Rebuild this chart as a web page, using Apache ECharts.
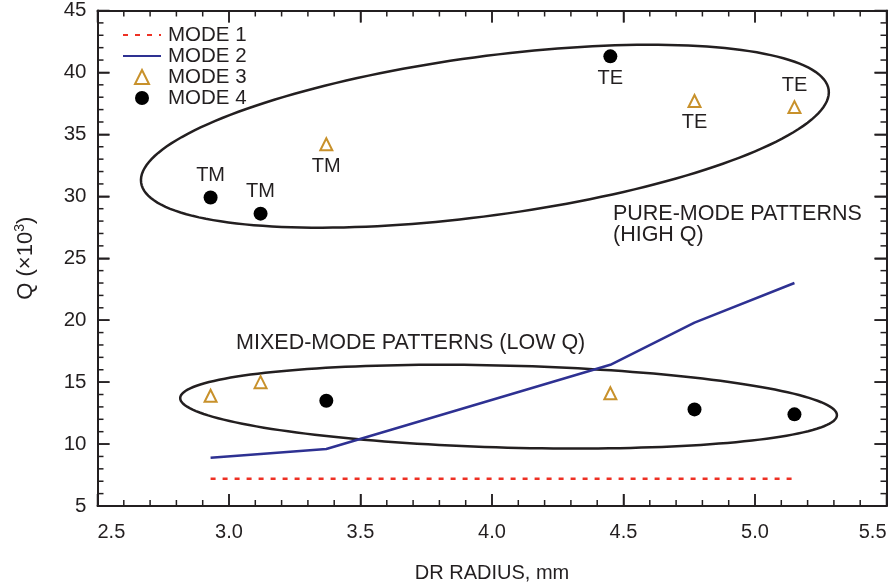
<!DOCTYPE html>
<html>
<head>
<meta charset="utf-8">
<script src="https://cdn.jsdelivr.net/npm/echarts@6/dist/echarts.min.js"></script>
<style>
html,body{margin:0;padding:0;background:#fff;}
#chart{width:891px;height:588px;}
</style>
</head>
<body>
<div id="chart"></div>
<script>
// ---- data ----
const xValues   = [2.93, 3.12, 3.37, 4.45, 4.77, 5.15];
const mode1     = [7.2, 7.2, 7.2, 7.2, 7.2, 7.2];
const mode2     = [8.9, 9.2, 9.6, 16.4, 19.8, 23.0];
const mode3     = [13.9, 15.0, 34.2, 14.1, 37.7, 37.2];
const mode4     = [29.9, 28.6, 13.5, 41.3, 12.8, 12.4];
const mode3Tags = ['', '', 'TM', '', 'TE', 'TE'];
const mode4Tags = ['TM', 'TM', '', 'TE', '', ''];
const seriesNames = ['MODE 1', 'MODE 2', 'MODE 3', 'MODE 4'];
const xTickValues = [2.5, 3.0, 3.5, 4.0, 4.5, 5.0, 5.5];
const yTickValues = [5, 10, 15, 20, 25, 30, 35, 40, 45];
const minorDivisions = 5;
const annotationTexts = ['PURE-MODE PATTERNS', '(HIGH Q)', 'MIXED-MODE PATTERNS (LOW Q)'];
const annotationAnchors = [[4.46, 28.55], [4.46, 26.85], [3.027, 18.15]];
const ellipseCentres = [[3.973, 34.85], [4.063, 13.02]];

// ---- styling / geometry config ----
const ellipseShape = [
  {a: 1.319, b: 6.42, angle: 7.69},
  {a: 1.249, b: 3.31, angle: -1.51}
];
const tagSide3 = ['', '', 'bottom', '', 'bottom', 'top'];
const tagSide4 = ['top', 'top', '', 'bottom', '', ''];
const TXT = '#231f20';
const FONT = 'Liberation Sans, Arial, Helvetica, sans-serif';
const X_MIN = xTickValues[0], Y_MIN = yTickValues[0];

function pairs(ys){ return xValues.map((x,i)=>[x, ys[i]]); }
function tagged(ys, tags, sides){
  return xValues.map((x,i)=>{
    const item = {value:[x, ys[i]]};
    if (tags[i]) {
      item.label = {show:true, formatter: tags[i], position: sides[i], distance: 5,
        color: TXT, fontSize: 20, fontFamily: FONT};
    }
    return item;
  });
}
// tick items located on the axes: [x, y, kind]
// kind 0 = x major, 1 = x minor, 2 = y major, 3 = y minor
function tickItems(majors, isX){
  const out = [];
  const place = (v, k) => isX ? [v, Y_MIN, k] : [X_MIN, v, k];
  majors.forEach((v,i)=>{
    out.push(place(v, isX ? 0 : 2));
    if (i < majors.length-1){
      const step = (majors[i+1]-v)/minorDivisions;
      for (let j=1;j<minorDivisions;j++) out.push(place(v + j*step, isX ? 1 : 3));
    }
  });
  return out;
}
const tickData = tickItems(xTickValues, true).concat(tickItems(yTickValues, false));

const chart = echarts.init(document.getElementById('chart'), null, {renderer:'canvas'});

function mk(base, extra){
  return Object.assign({
    axisLine:{show:true, onZero:false, lineStyle:{color:TXT, width:2}},
    axisTick:{show:true, inside:true, length:12, lineStyle:{color:TXT, width:1.5}},
    minorTick:{show:false},
    splitLine:{show:false}
  }, base, extra);
}
const XB = {type:'value', min:2.5, max:5.5, interval:0.5};
const YB = {type:'value', min:5, max:45, interval:5};

const triIcon = 'path://M19,1.5L24.5,12.5L13.5,12.5Z';

const option = {
  backgroundColor:'#fff',
  animation:false,
  grid:{left:97.5, right:4.5, top:10, bottom:75.5},
  legend:{
    data:[
      {name:'MODE 1', itemStyle:{opacity:0}},
      {name:'MODE 2', itemStyle:{opacity:0}},
      {name:'MODE 3', icon: triIcon},
      {name:'MODE 4'}
    ],
    orient:'vertical', left:122, top:24.5, padding:0,
    itemWidth:38, itemHeight:14, itemGap:0,
    textStyle:{color:TXT, fontSize:20.5, fontFamily:FONT, padding:[0,0,0,2]},
    selectedMode:false
  },
  xAxis:[
    mk(XB, {
      position:'bottom',
      name:'DR RADIUS, mm', nameLocation:'middle', nameGap:57,
      nameTextStyle:{color:TXT, fontSize:20, fontFamily:FONT},
      axisLabel:{show:true, color:TXT, fontSize:20, fontFamily:FONT, margin:16,
        alignMinLabel:'left', alignMaxLabel:'right',
        formatter:(v)=> xTickValues.includes(+(+v).toFixed(1)) ? (+v).toFixed(1) : ''}
    }),
    mk(XB, {position:'top', axisLabel:{show:false}})
  ],
  yAxis:[
    mk(YB, {
      position:'left',
      name:'Q (×10{sup|3})', nameLocation:'middle', nameGap:60, nameRotate:90,
      nameTextStyle:{color:TXT, fontSize:22, fontFamily:FONT,
        rich:{sup:{fontSize:14, fontFamily:FONT, color:TXT, verticalAlign:'top', padding:[0,0,10,0]}}},
      axisLabel:{show:true, color:TXT, fontSize:20.5, fontFamily:FONT, margin:11,
        formatter:(v)=> yTickValues.includes(+v) ? String(v) : ''}
    }),
    mk(YB, {position:'right', axisLabel:{show:false}})
  ],
  series:[
    {
      type:'custom', name:'ticks', silent:true, z:6, clip:false,
      data: tickData,
      encode:{x:0, y:1},
      renderItem:(params, api)=>{
        const cs = params.coordSys;
        const kind = api.value(2);
        const p = api.coord([api.value(0), api.value(1)]);
        const st = {stroke:TXT, lineWidth:1.5};
        if (kind < 2){
          const len = kind === 0 ? 12 : 6;
          const yb = cs.y + cs.height, yt = cs.y;
          return {type:'group', children:[
            {type:'line', shape:{x1:p[0], y1:yb, x2:p[0], y2:yb-len}, style:st},
            {type:'line', shape:{x1:p[0], y1:yt, x2:p[0], y2:yt+len}, style:st}
          ]};
        } else {
          const len = kind === 2 ? 12 : 6;
          const xl = cs.x, xr = cs.x + cs.width;
          return {type:'group', children:[
            {type:'line', shape:{x1:xl, y1:p[1], x2:xl+len, y2:p[1]}, style:st},
            {type:'line', shape:{x1:xr, y1:p[1], x2:xr-len, y2:p[1]}, style:st}
          ]};
        }
      }
    },
    {
      type:'custom', name:'ellipses', silent:true, z:1,
      data: ellipseCentres.map((c,i)=>[c[0], c[1], i]),
      renderItem:(params, api)=>{
        const c = api.coord([api.value(0), api.value(1)]);
        const sh = ellipseShape[api.value(2)];
        const a = api.size([sh.a, 0])[0];
        const b = api.size([0, sh.b])[1];
        const phi = sh.angle * Math.PI / 180;
        const pts = [];
        for (let k=0; k<=360; k+=2){
          const t = k*Math.PI/180;
          const ex = a*Math.cos(t), ey = b*Math.sin(t);
          pts.push([c[0] + ex*Math.cos(phi) - ey*Math.sin(phi),
                    c[1] - (ex*Math.sin(phi) + ey*Math.cos(phi))]);
        }
        return {type:'polygon', shape:{points:pts},
          style:{fill:'none', stroke:TXT, lineWidth:2.5}};
      }
    },
    {
      type:'custom', name:'notes', silent:true, z:5,
      data: annotationAnchors.map((p,i)=>[p[0], p[1], i]),
      renderItem:(params, api)=>{
        const c = api.coord([api.value(0), api.value(1)]);
        return {type:'text', x:c[0], y:c[1],
          style:{text:annotationTexts[api.value(2)], fill:TXT, fontSize:21.5,
            fontFamily:FONT, align:'left', verticalAlign:'middle'}};
      }
    },
    {
      name:'MODE 1', type:'line', data:pairs(mode1), symbol:'none', z:3,
      lineStyle:{color:'#ee3124', width:2.5, type:[5,7]},
      itemStyle:{color:'#ee3124'}
    },
    {
      name:'MODE 2', type:'line', data:pairs(mode2), symbol:'none', z:3,
      lineStyle:{color:'#2e3192', width:2.5},
      itemStyle:{color:'#2e3192'}
    },
    {
      name:'MODE 3', type:'scatter', data:tagged(mode3, mode3Tags, tagSide3),
      symbol:'triangle', symbolSize:12, z:4,
      itemStyle:{color:'rgba(255,255,255,0)', borderColor:'#c8912b', borderWidth:2, opacity:1}
    },
    {
      name:'MODE 4', type:'scatter', data:tagged(mode4, mode4Tags, tagSide4),
      symbol:'circle', symbolSize:14, z:4,
      itemStyle:{color:'#000', opacity:1}
    }
  ]
};
chart.setOption(option);
</script>
</body>
</html>
